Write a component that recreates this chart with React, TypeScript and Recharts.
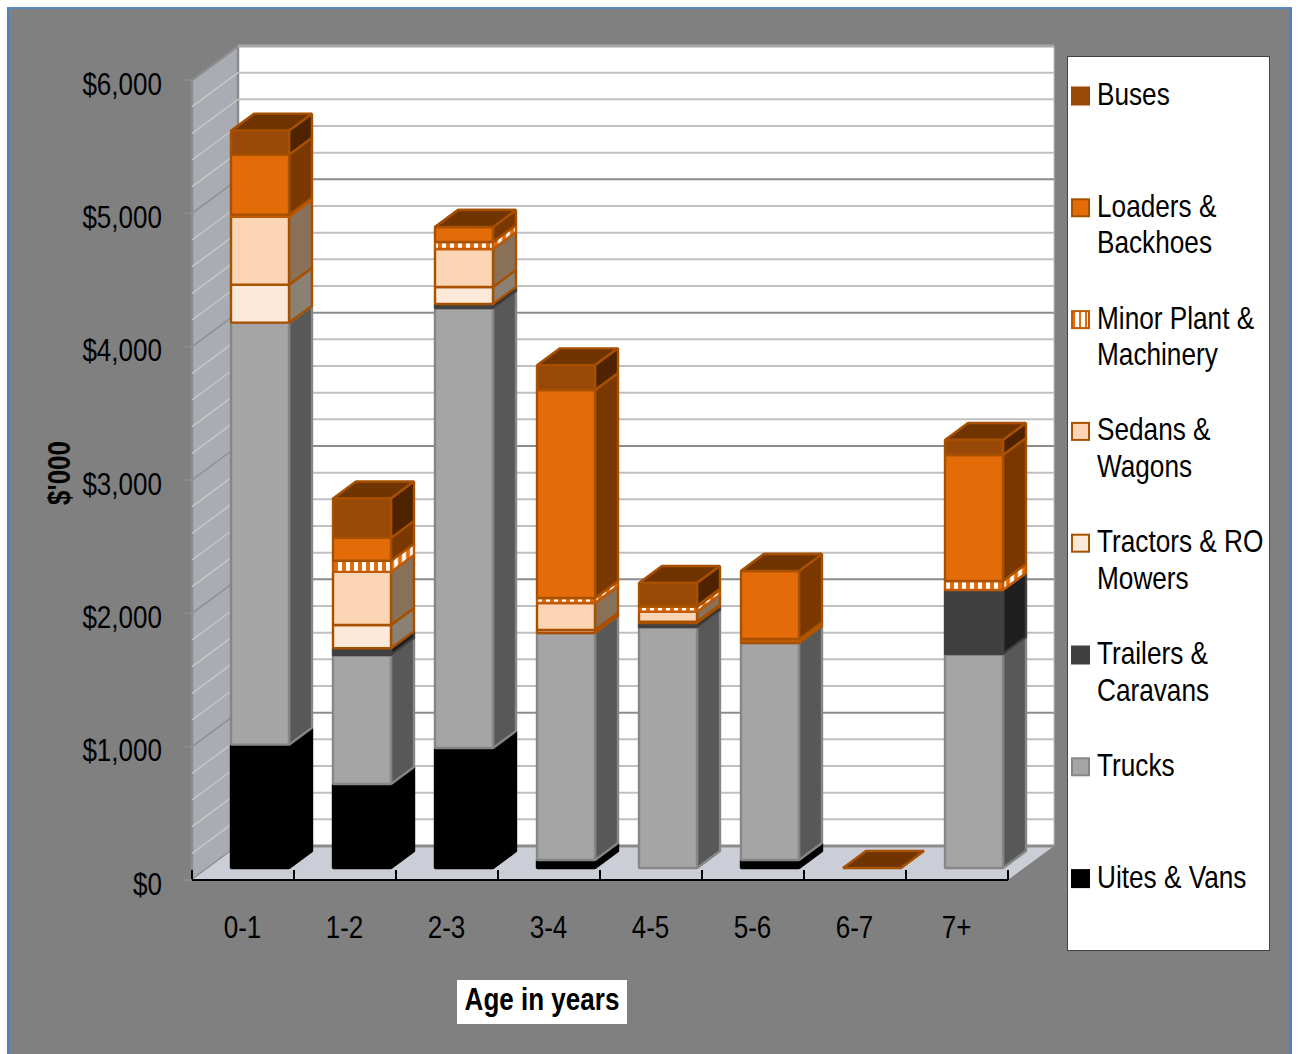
import React from 'react';
import { BarChart, Bar, XAxis, YAxis, CartesianGrid, Legend, usePlotArea } from 'recharts';

const categories = ['0-1', '1-2', '2-3', '3-4', '4-5', '5-6', '6-7', '7+'];

const uitesVans = [925, 630, 900, 60, 0, 60, 0, 0];
const trucks = [3165, 968, 3300, 1703, 1808, 1628, 0, 1605];
const trailers = [0, 50, 30, 0, 30, 0, 0, 480];
const tractors = [285, 175, 128, 22, 10, 8, 0, 0];
const sedans = [510, 398, 285, 203, 75, 8, 0, 0];
const minorPlant = [15, 83, 52, 37, 37, 14, 0, 68];
const loaders = [450, 172, 113, 1560, 8, 510, 0, 945];
const buses = [180, 295, 0, 185, 170, 0, 0, 112];

const seriesKeys = ['uites', 'trucks', 'trailers', 'tractors', 'sedans', 'minor', 'loaders', 'buses'];
const seriesNames = [
  'Uites & Vans',
  'Trucks',
  'Trailers &\nCaravans',
  'Tractors & RO\nMowers',
  'Sedans &\nWagons',
  'Minor Plant &\nMachinery',
  'Loaders &\nBackhoes',
  'Buses',
];
const seriesValues = [uitesVans, trucks, trailers, tractors, sedans, minorPlant, loaders, buses];

const yTicks = [0, 1000, 2000, 3000, 4000, 5000, 6000];
const gridValues = Array.from({ length: 31 }, (_, i) => i * 200);

const tableData = categories.map((age, i) => {
  const row: Record<string, string | number> = { age };
  seriesKeys.forEach((key, s) => {
    row[key] = seriesValues[s][i];
  });
  return row;
});

const BROWN = '#a65000';
const seriesStyles = [
  { face: '#000000', side: '#000000', top: '#000000', stroke: '#000000' },
  { face: '#a5a5a5', side: '#585858', top: '#6e6e6e', stroke: '#868686' },
  { face: '#404040', side: '#1f1f1f', top: '#2a2a2a', stroke: '#404040' },
  { face: '#fde9d9', side: '#8a8073', top: '#8a8073', stroke: BROWN },
  { face: '#fcd5b5', side: '#897159', top: '#897159', stroke: BROWN },
  { face: 'url(#minorFront)', side: 'url(#minorSide)', top: '#e36c09', stroke: '#c05a04' },
  { face: '#e36c09', side: '#7a3800', top: '#703400', stroke: BROWN },
  { face: '#984807', side: '#4f2300', top: '#703400', stroke: BROWN },
];

// Oblique projection: floor depth of the walls, shift and depth of the boxes
const WALL_DX = 46;
const WALL_DY = 34;
const BOX_SHIFT_X = 17;
const BOX_SHIFT_Y = 12;
const BOX_DX = 23;
const BOX_DY = 17;
const HALF_BAND = 51;

const FONT = '"Liberation Sans", Arial, sans-serif';

const NarrowText = ({ x, y, anchor = 'start', bold = false, rotate = 0, narrow = 0.84, children }: any) => (
  <text
    transform={`translate(${x},${y}) rotate(${rotate}) scale(${narrow},1)`}
    textAnchor={anchor}
    fontFamily={FONT}
    fontSize={31}
    fontWeight={bold ? 700 : 400}
    fill="#000"
  >
    {children}
  </text>
);

const pts = (list: number[][]) => list.map((p) => p.join(',')).join(' ');

const WallPanels = () => {
  const area = usePlotArea();
  if (!area) return null;
  const { x, y, width, height } = area;
  const b = y + height;
  const r = x + width;
  return (
    <g>
      <defs>
        <pattern id="minorFront" width="8" height="8" patternUnits="userSpaceOnUse">
          <rect width="8" height="8" fill="#e36c09" />
          <rect x="2" width="4" height="8" fill="#ffffff" />
        </pattern>
        <pattern id="minorSide" width="8" height="8" patternUnits="userSpaceOnUse" patternTransform="skewY(-36.5)">
          <rect width="8" height="8" fill="#e36c09" />
          <rect x="2" width="4" height="8" fill="#ffffff" />
        </pattern>
      </defs>
      <rect x={x + WALL_DX} y={y - WALL_DY} width={width} height={height} fill="#ffffff" />
      <polygon
        points={pts([[x, y], [x + WALL_DX, y - WALL_DY], [x + WALL_DX, b - WALL_DY], [x, b]])}
        fill="#a9adb3"
        stroke="#8c8c8c"
        strokeWidth={2.5}
      />
      <polygon
        points={pts([[x, b], [x + WALL_DX, b - WALL_DY], [r + WALL_DX, b - WALL_DY], [r, b]])}
        fill="#cbced6"
      />
      <line x1={x + WALL_DX} y1={y - WALL_DY} x2={r + WALL_DX} y2={y - WALL_DY} stroke="#a6a6a6" strokeWidth={3} />
      <line x1={r + WALL_DX} y1={y - WALL_DY} x2={r + WALL_DX} y2={b - WALL_DY} stroke="#c0c0c0" strokeWidth={1} />
    </g>
  );
};

// One gridline on the back wall with its slanted continuation on the side wall
const WallGridLine = (props: any) => {
  const { x1, x2, y1, index } = props;
  const major = gridValues[index] % 1000 === 0;
  const base = gridValues[index] === 0;
  const top = gridValues[index] === 6000;
  if (top) return <g key={`grid-${index}`} />;
  return (
    <g key={`grid-${index}`}>
      {!base && (
        <line x1={x1} y1={y1} x2={x1 + WALL_DX} y2={y1 - WALL_DY} stroke={major ? '#8f8f8f' : '#c6c6c6'} strokeWidth={1.5} />
      )}
      <line
        x1={x1 + WALL_DX}
        y1={y1 - WALL_DY}
        x2={x2 + WALL_DX}
        y2={y1 - WALL_DY}
        stroke={base || major ? '#8c8c8c' : '#c0c0c0'}
        strokeWidth={base ? 3 : 2}
      />
    </g>
  );
};

const makeBox = (s: number) => (props: any) => {
  const { x, y, width, height, index } = props;
  const isTopSeries = s === seriesValues.length - 1;
  const value = seriesValues[s][index];
  if (!value && !isTopSeries) return <g />;
  const st = seriesStyles[s];
  // keep the outline inside the bar's width
  const fx = x + BOX_SHIFT_X + 1;
  const w = width - 2;
  const fy = y - BOX_SHIFT_Y;
  const h = height || 0;
  const rx = fx + w;
  return (
    <g stroke={st.stroke} strokeWidth={2.4} strokeLinejoin="bevel">
      <polygon
        points={pts([[fx, fy], [fx + BOX_DX, fy - BOX_DY], [rx + BOX_DX, fy - BOX_DY], [rx, fy]])}
        fill={st.top}
      />
      {h > 0 && (
        <>
          <polygon
            points={pts([[rx, fy], [rx + BOX_DX, fy - BOX_DY], [rx + BOX_DX, fy + h - BOX_DY], [rx, fy + h]])}
            fill={st.side}
          />
          <rect x={fx} y={fy} width={w} height={h} fill={st.face} />
        </>
      )}
    </g>
  );
};

const YTick = ({ x, y, payload }: any) => (
  <g>
    <line x1={x} y1={y} x2={x - 9} y2={y} stroke="#8e8e8e" strokeWidth={1.5} />
    <NarrowText x={x - 30} y={y + 14.5} anchor="end">
      {`$${payload.value.toLocaleString('en-US')}`}
    </NarrowText>
  </g>
);

const XTick = ({ x, y, payload, index }: any) => (
  <g>
    {index === 0 && <line x1={x - HALF_BAND} y1={y} x2={x - HALF_BAND} y2={y - 10} stroke="#000" strokeWidth={2} />}
    <line x1={x + HALF_BAND} y1={y} x2={x + HALF_BAND} y2={y - 10} stroke="#000" strokeWidth={2} />
    <NarrowText x={x - 0.5} y={y + 58} anchor="middle">
      {payload.value}
    </NarrowText>
  </g>
);

const LEGEND_ROW = 111.8;

const LegendPanel = ({ payload }: any) => {
  const rows = [...(payload || [])].sort(
    (a: any, b: any) => seriesNames.indexOf(b.value) - seriesNames.indexOf(a.value),
  );
  return (
    <svg width={203} height={895} style={{ display: 'block' }}>
      <rect x={0.5} y={0.5} width={202} height={894} fill="#fff" stroke="#444" />
      {rows.map((row: any, i: number) => {
        const st = seriesStyles[seriesNames.indexOf(row.value)];
        const cy = 40 + i * LEGEND_ROW;
        return (
          <g key={row.value}>
            <rect
              x={5}
              y={cy - 8.5}
              width={17}
              height={17}
              fill={st.face === 'url(#minorFront)' ? 'url(#minorLegend)' : st.face}
              stroke={st.face === '#984807' ? '#984807' : st.stroke}
              strokeWidth={2}
            />
            {String(row.value)
              .split('\n')
              .map((line: string, l: number) => (
                <NarrowText key={line} x={30} y={cy + 9 + l * 36.6} narrow={0.845}>
                  {line}
                </NarrowText>
              ))}
          </g>
        );
      })}
      <defs>
        <pattern id="minorLegend" x="7" width="6" height="8" patternUnits="userSpaceOnUse">
          <rect width="6" height="8" fill="#e36c09" />
          <rect x="1" width="4" height="8" fill="#fff" />
        </pattern>
      </defs>
    </svg>
  );
};

export default function App() {
  return (
    <div style={{ position: 'absolute', left: 0, top: 0, width: 1298, height: 1054, background: '#fff', overflow: 'hidden' }}>
      <div
        style={{
          position: 'absolute',
          left: 7,
          top: 7,
          width: 1285,
          height: 1047,
          boxSizing: 'border-box',
          background: '#808080',
          borderLeft: '2px solid #4f81bd',
          borderRight: '2px solid #4f81bd',
          borderTop: '2px solid #5b8ac4',
        }}
      />
      <div style={{ position: 'absolute', left: 0, top: 0 }}>
        <BarChart
          width={1298}
          height={1054}
          data={tableData}
          stackOffset="none"
          barSize={60}
          margin={{ top: 80, right: 290, bottom: 114, left: 92 }}
        >
          <WallPanels />
          <CartesianGrid vertical={false} horizontalValues={gridValues} horizontal={WallGridLine} zIndex={1} />
          <XAxis
            dataKey="age"
            height={60}
            interval={0}
            tickLine={false}
            tickSize={0}
            tickMargin={0}
            axisLine={{ stroke: '#000', strokeWidth: 2 }}
            tick={XTick}
          />
          <YAxis
            width={100}
            domain={[0, 6000]}
            ticks={yTicks}
            interval={0}
            tickLine={false}
            tickSize={0}
            tickMargin={0}
            axisLine={false}
            tick={YTick}
          />
          {seriesKeys.map((key, s) => (
            <Bar
              key={key}
              dataKey={key}
              name={seriesNames[s]}
              stackId="assets"
              fill={seriesStyles[s].face}
              shape={makeBox(s)}
              isAnimationActive={false}
            />
          ))}
          <Legend
            layout="vertical"
            align="center"
            verticalAlign="middle"
            content={LegendPanel}
            wrapperStyle={{ position: 'absolute', left: 1067, top: 56, width: 203, height: 895 }}
          />
          <NarrowText x={70} y={473} anchor="middle" bold rotate={-90}>
            $'000
          </NarrowText>
          <rect x={457} y={980} width={170} height={44} fill="#fff" />
          <NarrowText x={542} y={1010} anchor="middle" bold>
            Age in years
          </NarrowText>
        </BarChart>
      </div>
    </div>
  );
}
